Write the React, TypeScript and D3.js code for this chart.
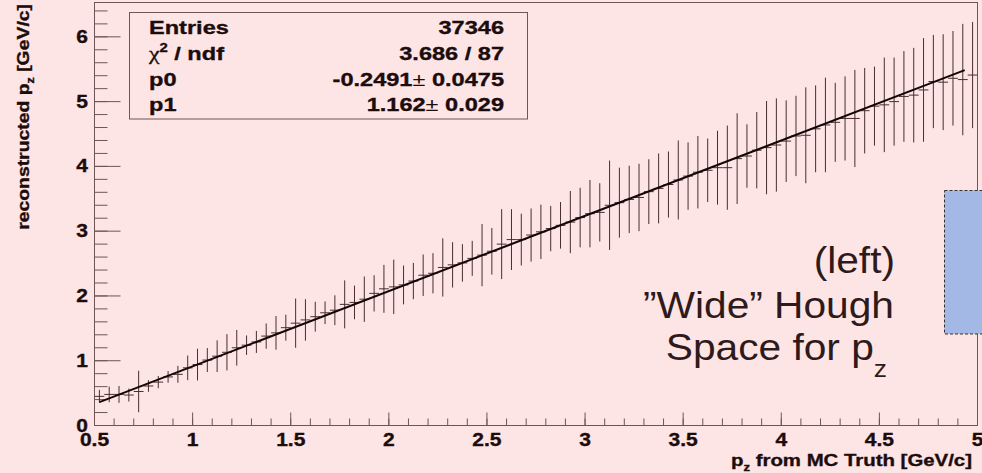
import React from 'react';
import * as d3 from 'd3';

const W = 982;
const H = 473;

// TProfile: 90 bins of width 0.05 from 0.5 to 5.0
const binLow = 0.5;
const binWidth = 0.05;
const means = [
  0.45, 0.48, 0.48, 0.47, 0.525, 0.61, 0.67, 0.75, 0.79, 0.89,
  0.94, 1.01, 1.07, 1.13, 1.2, 1.24, 1.29, 1.38, 1.43, 1.51,
  1.58, 1.63, 1.68, 1.74, 1.78, 1.87, 1.9, 1.95, 2.04, 2.11,
  2.14, 2.17, 2.23, 2.32, 2.35, 2.44, 2.48, 2.51, 2.58, 2.63,
  2.69, 2.8, 2.87, 2.87, 2.94, 2.99, 3.04, 3.09, 3.14, 3.21,
  3.27, 3.29, 3.4, 3.44, 3.49, 3.52, 3.61, 3.66, 3.72, 3.79,
  3.85, 3.91, 3.94, 3.98, 3.98, 4.12, 4.16, 4.25, 4.29, 4.33,
  4.39, 4.47, 4.48, 4.58, 4.64, 4.68, 4.74, 4.74, 4.86, 4.93,
  4.95, 5.0, 5.08, 5.1, 5.18, 5.31, 5.3, 5.36, 5.34, 5.41,
];
const errors = [
  0.1, 0.12, 0.13, 0.1, 0.32, 0.09, 0.095, 0.09, 0.13, 0.19,
  0.245, 0.185, 0.245, 0.28, 0.275, 0.15, 0.17, 0.195, 0.26, 0.2,
  0.38, 0.32, 0.23, 0.175, 0.23, 0.37, 0.26, 0.35, 0.28, 0.37,
  0.42, 0.3, 0.28, 0.32, 0.31, 0.45, 0.35, 0.29, 0.27, 0.48,
  0.36, 0.54, 0.47, 0.4, 0.41, 0.42, 0.35, 0.36, 0.48, 0.46,
  0.52, 0.45, 0.69, 0.54, 0.52, 0.52, 0.5, 0.54, 0.51, 0.61,
  0.52, 0.56, 0.49, 0.57, 0.65, 0.7, 0.49, 0.59, 0.72, 0.72,
  0.63, 0.62, 0.74, 0.67, 0.73, 0.61, 0.65, 0.75, 0.66, 0.61,
  0.73, 0.68, 0.7, 0.73, 0.8, 0.72, 0.74, 0.73, 0.86, 0.82,
];

const fitP0 = -0.2491;
const fitP1 = 1.162;
const fitRange = [0.525, 4.935];

const xTicks = [0.5, 1, 1.5, 2, 2.5, 3, 3.5, 4, 4.5, 5];
const xTickLabels = ['0.5', '1', '1.5', '2', '2.5', '3', '3.5', '4', '4.5', '5'];
const yTicks = [0, 1, 2, 3, 4, 5, 6];
const yTickLabels = ['0', '1', '2', '3', '4', '5', '6'];

const statsNames = ['Entries', 'chi', 'p0', 'p1'];
const statsValues = ['37346', '3.686 / 87', '-0.2491', '1.162'];
const statsErrors = ['', '', '0.0475', '0.029'];

const annotationLines = ['(left)', '\u201DWide\u201D Hough', 'Space for p'];

const BG = '#fee5e5';
const AXIS = '#6f5555';
const TXT = '#1c0c0c';
const BAR = '#4a2c2c';
const FONT = '"Liberation Sans", Arial, Helvetica, sans-serif';

function T(props: any) {
  const { x, y, sx = 1, anchor = 'start', size, weight = 'bold', fill = TXT, rot = 0, children } = props;
  return (
    <text
      transform={`translate(${x},${y})${rot ? ` rotate(${rot})` : ''} scale(${sx},1)`}
      textAnchor={anchor}
      fontSize={size}
      fontWeight={weight}
      fontFamily={FONT}
      fill={fill}
      stroke={weight === 'bold' ? fill : 'none'}
      strokeWidth={weight === 'bold' ? 0.35 : 0}
    >
      {children}
    </text>
  );
}

export default function App() {
  const x = d3.scaleLinear().domain([0.5, 5]).range([94.5, 977.5]);
  const y = d3.scaleLinear().domain([0, 6.53]).range([425.5, 2.5]);

  const xMinor = d3.range(0, 46).map((i) => 0.5 + i * 0.1).filter((v) => v <= 5.0001);
  const yMinor = d3.range(0, 33).map((i) => i * 0.2).filter((v) => v <= 6.53);

  const bins = means.map((m, i) => {
    const lo = binLow + i * binWidth;
    return { lo, hi: lo + binWidth, c: lo + binWidth / 2, m, e: errors[i] };
  });

  const fitLine = d3
    .line<number>()
    .x((v) => x(v))
    .y((v) => y(fitP0 + fitP1 * v))(fitRange);

  const statsY = [34, 60, 85.5, 111];

  return (
    <svg
      width={W}
      height={H}
      style={{ position: 'absolute', left: 0, top: 0, display: 'block' }}
    >
      <rect x={0} y={0} width={W} height={H} fill={BG} />
      <defs>
        <clipPath id="plotclip">
          <rect x={94.5} y={2.5} width={883} height={423} />
        </clipPath>
      </defs>

      {/* frame */}
      <rect x={94.5} y={2.5} width={883} height={423} fill="none" stroke={AXIS} strokeWidth={1} />

      {/* x ticks */}
      {xMinor.map((v, i) => (
        <line key={'xm' + i} x1={x(v)} x2={x(v)} y1={425.5} y2={418.5} stroke={AXIS} />
      ))}
      {xTicks.map((v, i) => (
        <line key={'xM' + i} x1={x(v)} x2={x(v)} y1={425.5} y2={412.5} stroke={AXIS} />
      ))}
      {/* y ticks */}
      {yMinor.map((v, i) => (
        <line key={'ym' + i} x1={94.5} x2={107.5} y1={y(v)} y2={y(v)} stroke={AXIS} />
      ))}
      {yTicks.map((v, i) => (
        <line key={'yM' + i} x1={94.5} x2={120.5} y1={y(v)} y2={y(v)} stroke={AXIS} />
      ))}

      {/* tick labels */}
      {xTicks.map((v, i) => (
        <T key={'xl' + i} x={x(v)} y={446} sx={1.2} anchor="middle" size={17.5}>
          {xTickLabels[i]}
        </T>
      ))}
      {yTicks.map((v, i) => (
        <T key={'yl' + i} x={88} y={y(v) + 6} sx={1.2} anchor="end" size={17.5}>
          {yTickLabels[i]}
        </T>
      ))}

      {/* axis titles */}
      <T x={972} y={466} sx={1.2} anchor="end" size={17}>
        p<tspan fontSize={11} dy={5}>z</tspan>
        <tspan dy={-5}> from MC Truth [GeV/c]</tspan>
      </T>
      <T x={28.5} y={4} rot={-90} sx={1.14} anchor="end" size={17}>
        reconstructed p<tspan fontSize={11} dy={5}>z</tspan>
        <tspan dy={-5}> [GeV/c]</tspan>
      </T>

      {/* profile points */}
      <g clipPath="url(#plotclip)">
        {bins.map((b, i) => (
          <g key={'b' + i}>
            <line x1={x(b.c)} x2={x(b.c)} y1={y(b.m - b.e)} y2={y(b.m + b.e)} stroke={BAR} strokeWidth={1} />
            <line x1={x(b.lo)} x2={x(b.hi)} y1={y(b.m)} y2={y(b.m)} stroke={BAR} strokeWidth={1} />
          </g>
        ))}
        <path d={fitLine || ''} fill="none" stroke="#120606" strokeWidth={2} />
      </g>

      {/* stats box */}
      <rect x={129.5} y={12.5} width={398} height={106.5} fill={BG} stroke={AXIS} strokeWidth={1} />
      {statsNames.map((n, i) => (
        <T key={'sn' + i} x={149} y={statsY[i]} sx={1.24} size={19}>
          {n === 'chi' ? (
            <>
              <tspan fontWeight="normal" fontFamily='"Liberation Serif", serif'>χ</tspan>
              <tspan fontSize={12} dy={-8}>2</tspan>
              <tspan dy={8}> / ndf</tspan>
            </>
          ) : (
            n
          )}
        </T>
      ))}
      {statsValues.map((v, i) => (
        <T key={'sv' + i} x={504} y={statsY[i]} sx={1.24} anchor="end" size={19}>
          {statsErrors[i] ? (
            <>
              {v}
              <tspan fontWeight="normal" strokeWidth={0}>±</tspan> {statsErrors[i]}
            </>
          ) : (
            v
          )}
        </T>
      ))}

      {/* annotation */}
      <T x={895} y={272.5} sx={1.1} anchor="end" size={37} weight="normal" fill="#2e1a1a">
        {annotationLines[0]}
      </T>
      <T x={894} y={318} sx={1.1} anchor="end" size={37} weight="normal" fill="#2e1a1a">
        {annotationLines[1]}
      </T>
      <T x={887} y={360} sx={1.1} anchor="end" size={37} weight="normal" fill="#2e1a1a">
        {annotationLines[2]}
        <tspan fontSize={24} dy={17}>z</tspan>
      </T>

      {/* blue box at right edge */}
      <rect
        x={944.5}
        y={190.5}
        width={60}
        height={143.5}
        fill="#a4b8e6"
        stroke="#333"
        strokeWidth={1}
        strokeDasharray="3,2"
      />
    </svg>
  );
}
